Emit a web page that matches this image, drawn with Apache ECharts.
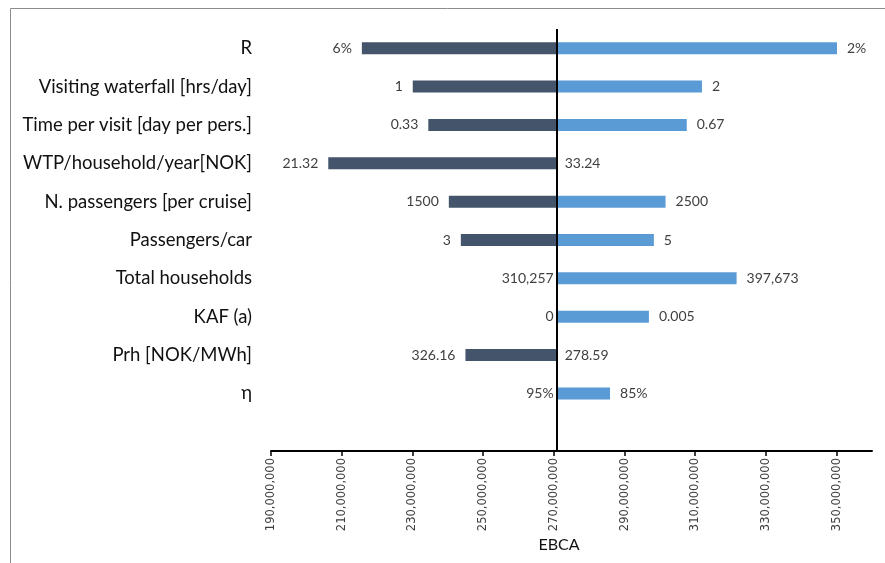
<!DOCTYPE html>
<html>
<head>
<meta charset="utf-8">
<script src="https://cdn.jsdelivr.net/npm/echarts@6/dist/echarts.min.js"></script>
<style>
html,body{margin:0;padding:0;background:#fff;}
#chart{width:885px;height:563px;}
</style>
</head>
<body>
<div id="chart"></div>
<script>
// ---- data ----
const categories = ['R', 'Visiting waterfall [hrs/day]', 'Time per visit [day per pers.]', 'WTP/household/year[NOK]',
  'N. passengers [per cruise]', 'Passengers/car', 'Total households', 'KAF (a)', 'Prh [NOK/MWh]', 'η', ''];
const baseEBCA = 270.8e6;
const lowCaseEBCA  = [215.7e6, 230.1e6, 234.5e6, 206.2e6, 240.3e6, 243.7e6, 270.8e6, 270.8e6, 245.0e6, 270.8e6, null];
const highCaseEBCA = [350.1e6, 311.9e6, 307.6e6, 270.8e6, 301.6e6, 298.3e6, 321.7e6, 296.9e6, 270.8e6, 285.9e6, null];
const lowLabels  = ['6%', '1', '0.33', '21.32', '1500', '3', '310,257', '0', '326.16', '95%', ''];
const highLabels = ['2%', '2', '0.67', '33.24', '2500', '5', '397,673', '0.005', '278.59', '85%', ''];
const tickValues = [190e6, 210e6, 230e6, 250e6, 270e6, 290e6, 310e6, 330e6, 350e6];
const axisMin = 190e6, axisMax = 360e6;

const FONT = 'Lato';
const chart = echarts.init(document.getElementById('chart'), null, {renderer: 'canvas'});

const offsetData = lowCaseEBCA.map(v => v == null ? null : v);
const lowBars = lowCaseEBCA.map((v, i) => {
  if (v == null) return null;
  const zero = Math.abs(baseEBCA - v) < 1;
  return {value: baseEBCA - v, label: {distance: zero ? 3 : 10}};
});
const highBars = highCaseEBCA.map((v, i) => {
  if (v == null) return null;
  const zero = Math.abs(v - baseEBCA) < 1;
  return {value: v - baseEBCA, label: {distance: zero ? 8 : 10}};
});

chart.setOption({
  animation: false,
  backgroundColor: '#ffffff',
  grid: {left: 271, right: 13, top: 29, bottom: 112, containLabel: false},
  xAxis: {
    type: 'value', min: axisMin, max: axisMax, interval: 20e6,
    axisLine: {show: true, lineStyle: {color: '#000', width: 2}},
    axisTick: {show: true, length: 5, lineStyle: {color: '#000', width: 1.5}, customValues: tickValues},
    axisLabel: {
      rotate: 90, margin: 7, fontFamily: 'DejaVu Sans', fontSize: 11.5, color: '#404040',
      customValues: tickValues,
      formatter: v => Number(v).toLocaleString('en-US')
    },
    splitLine: {show: false}
  },
  yAxis: {
    type: 'category', data: categories, inverse: true,
    axisLine: {show: false}, axisTick: {show: false},
    axisLabel: {margin: 19, fontFamily: FONT, fontSize: 18.5, color: '#111111'}
  },
  series: [
    {
      type: 'bar', stack: 'tornado', data: offsetData, barWidth: 12,
      itemStyle: {color: 'rgba(0,0,0,0)'}, silent: true
    },
    {
      type: 'bar', stack: 'tornado', data: lowBars, barWidth: 12,
      itemStyle: {color: '#44546A'},
      label: {show: true, position: 'left', fontFamily: FONT, fontSize: 14, color: '#404040',
        formatter: p => lowLabels[p.dataIndex]}
    },
    {
      type: 'bar', stack: 'tornado', data: highBars, barWidth: 12,
      itemStyle: {color: '#5B9BD5'},
      label: {show: true, position: 'right', fontFamily: FONT, fontSize: 14, color: '#404040',
        formatter: p => highLabels[p.dataIndex]},
      markLine: {
        silent: true, symbol: ['none', 'none'],
        lineStyle: {color: '#000', width: 2, type: 'solid'},
        label: {show: false},
        data: [{xAxis: baseEBCA}]
      }
    }
  ],
  graphic: [
    {type: 'line', shape: {x1: 10.5, y1: 8.5, x2: 885, y2: 8.5}, style: {stroke: '#8c8c8c', lineWidth: 1}},
    {type: 'line', shape: {x1: 10.5, y1: 8.5, x2: 10.5, y2: 563}, style: {stroke: '#8c8c8c', lineWidth: 1}},
    {type: 'text', x: 559, y: 545, style: {text: 'EBCA', fontFamily: FONT, fontSize: 16, fill: '#111111',
      textAlign: 'center', textVerticalAlign: 'middle'}}
  ]
});
</script>
</body>
</html>
